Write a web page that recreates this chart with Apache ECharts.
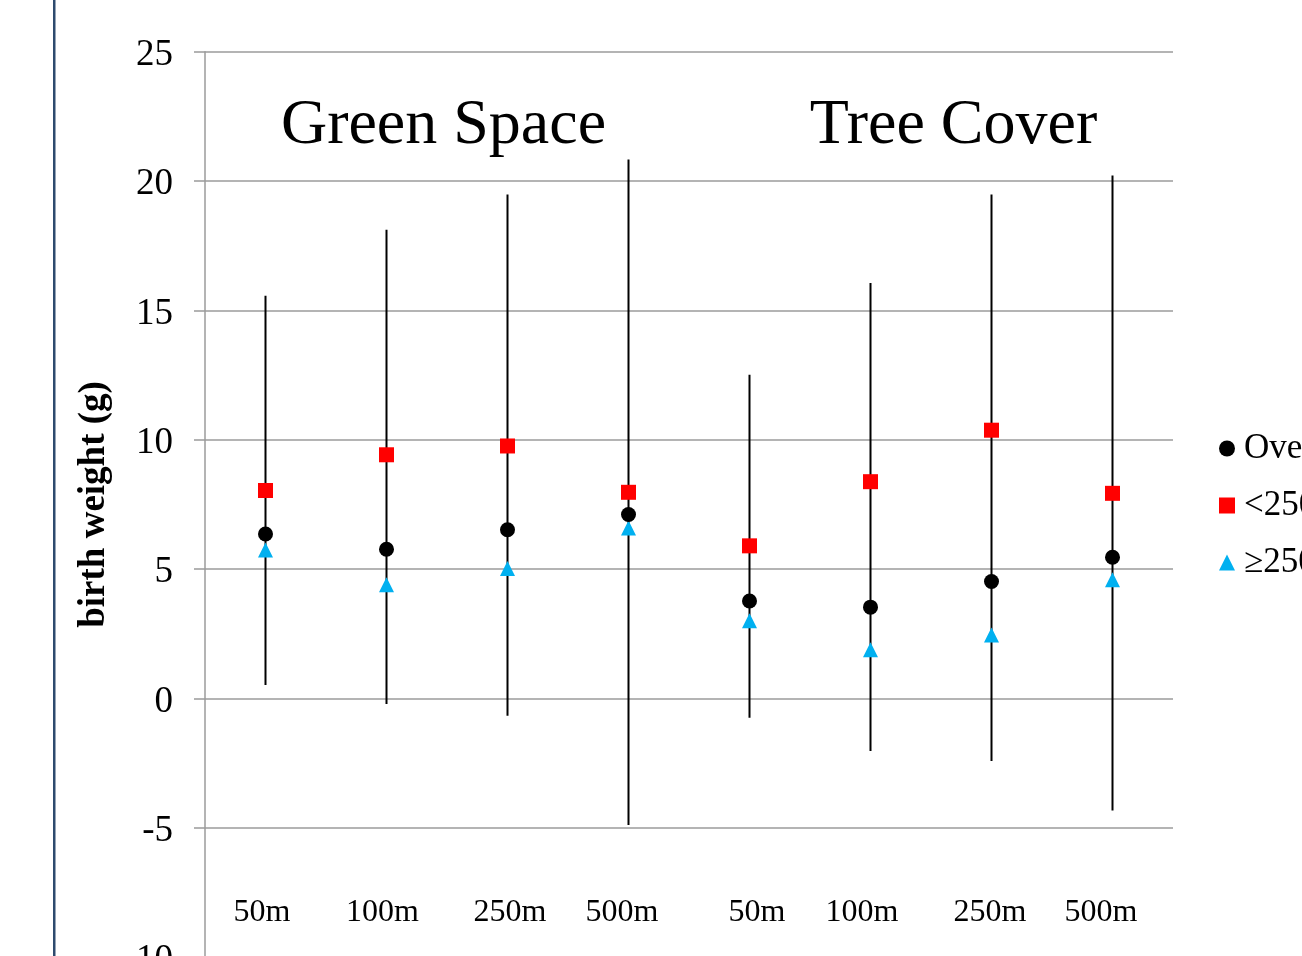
<!DOCTYPE html>
<html>
<head>
<meta charset="utf-8">
<script src="https://cdn.jsdelivr.net/npm/echarts@6/dist/echarts.min.js"></script>
<style>
html,body{margin:0;padding:0;background:#fff;}
#chart{width:1302px;height:956px;}
</style>
</head>
<body>
<div id="chart"></div>
<script>
// ---- data ----
const categories = ['50m', '100m', '250m', '500m', '50m', '100m', '250m', '500m'];
const groupTitles = ['Green Space', 'Tree Cover'];
const seriesNames = ['Overall', '<2500 g', '\u22652500 g'];
const overall = [6.36, 5.77, 6.52, 7.11, 3.77, 3.53, 4.52, 5.46];
const lowBW = [8.04, 9.42, 9.76, 7.97, 5.90, 8.38, 10.37, 7.93];
const normalBW = [5.74, 4.40, 5.02, 6.59, 3.00, 1.88, 2.45, 4.59];
const ciLower = [0.52, -0.21, -0.67, -4.89, -0.74, -2.03, -2.42, -4.33];
const ciUpper = [15.57, 18.12, 19.48, 20.83, 12.51, 16.06, 19.48, 20.21];
const yMin = -10, yMax = 25, yStep = 5;

// layout: small horizontal nudges of category labels (px), as placed in the original
const labelNudge = [-3.5, -4, 2.5, -6.5, 7.5, -8.5, -1.5, -11.5];

const FONT = '"Liberation Serif", "Times New Roman", serif';
const GRIDC = '#9b9b9b';

const chart = echarts.init(document.getElementById('chart'), null, {renderer: 'canvas'});

const errData = categories.map((c, i) => [i, ciLower[i], ciUpper[i]]);

const rich = {};
labelNudge.forEach((d, i) => {
  rich['s' + i] = {
    fontFamily: FONT, fontSize: 32, color: '#000',
    padding: d >= 0 ? [0, 0, 0, 2 * d] : [0, -2 * d, 0, 0]
  };
});

const option = {
  backgroundColor: '#fff',
  animation: false,
  grid: {left: 205, top: 51.7, width: 968, height: 905.5, containLabel: false, outerBoundsMode: 'none'},
  legend: {
    orient: 'vertical',
    left: 1219,
    top: 431,
    padding: 0,
    itemWidth: 16,
    itemHeight: 16,
    itemGap: 22,
    textStyle: {fontFamily: FONT, fontSize: 35, color: '#000', padding: [0, 0, 0, 4]},
    data: [
      {name: seriesNames[0], icon: 'circle'},
      {name: seriesNames[1], icon: 'rect'},
      {name: seriesNames[2], icon: 'triangle'}
    ]
  },
  xAxis: {
    type: 'category',
    data: categories,
    axisLine: {show: false},
    axisTick: {show: false},
    splitLine: {show: false},
    axisLabel: {
      interval: 0,
      margin: -45,
      verticalAlign: 'middle',
      fontFamily: FONT,
      fontSize: 32,
      color: '#000',
      formatter: function (value, idx) { return '{s' + idx + '|' + value + '}'; },
      rich: rich
    }
  },
  yAxis: {
    type: 'value',
    min: yMin,
    max: yMax,
    interval: yStep,
    name: 'birth weight (g)',
    nameLocation: 'middle',
    nameGap: 88,
    nameTextStyle: {fontFamily: FONT, fontSize: 37, fontWeight: 'bold', color: '#000'},
    axisLine: {show: true, lineStyle: {color: GRIDC, width: 1.5}},
    axisTick: {show: true, length: 11, lineStyle: {color: GRIDC, width: 1.5}},
    splitLine: {show: true, lineStyle: {color: GRIDC, width: 1.5}},
    axisLabel: {
      margin: 32, fontFamily: FONT, fontSize: 37, color: '#000',
      formatter: function (value) { return '{v|' + value + '}'; },
      rich: {v: {fontFamily: FONT, fontSize: 37, color: '#000', padding: [7, 0, 0, 0]}}
    }
  },
  graphic: [
    {type: 'rect', left: 53, top: 0, shape: {width: 2.5, height: 956}, style: {fill: '#2e4a6e'}, z: 10},
    {type: 'text', x: 443.5, y: 126, style: {text: groupTitles[0], font: '64px ' + FONT, fill: '#000', align: 'center', verticalAlign: 'middle'}, z: 10},
    {type: 'text', x: 953.5, y: 126, style: {text: groupTitles[1], font: '64px ' + FONT, fill: '#000', align: 'center', verticalAlign: 'middle'}, z: 10}
  ],
  series: [
    {
      type: 'custom',
      name: 'CI',
      data: errData,
      encode: {x: 0, y: [1, 2]},
      z: 1,
      renderItem: function (params, api) {
        const i = api.value(0);
        const lo = api.coord([i, api.value(1)]);
        const hi = api.coord([i, api.value(2)]);
        return {
          type: 'line',
          shape: {x1: lo[0], y1: lo[1], x2: hi[0], y2: hi[1]},
          style: {stroke: '#000', lineWidth: 2}
        };
      }
    },
    {
      type: 'scatter', name: seriesNames[1], data: lowBW,
      symbol: 'rect', symbolSize: 15, itemStyle: {color: '#ff0000', opacity: 1}, z: 3
    },
    {
      type: 'scatter', name: seriesNames[2], data: normalBW,
      symbol: 'triangle', symbolSize: 15, itemStyle: {color: '#00b0f0', opacity: 1}, z: 3
    },
    {
      type: 'scatter', name: seriesNames[0], data: overall,
      symbol: 'circle', symbolSize: 15, itemStyle: {color: '#000', opacity: 1}, z: 4
    }
  ]
};
chart.setOption(option);
</script>
</body>
</html>
